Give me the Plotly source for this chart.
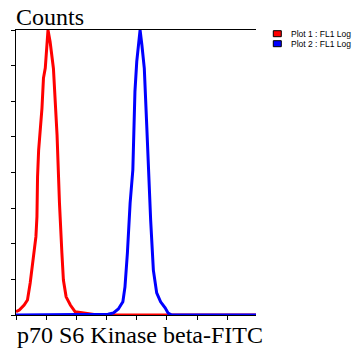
import plotly.graph_objects as go

# Data: fluorescence channel (log decades) vs counts
red_x = [0.0, 0.11, 0.27, 0.38, 0.47, 0.55, 0.605, 0.66, 0.694, 0.714, 0.75, 0.86, 0.91, 0.97, 1.06,
         1.13, 1.24, 1.36, 1.39, 1.44, 1.52, 1.57, 1.66, 1.80, 1.96, 2.23, 2.51, 2.7, 8.0]
red_y = [9, 14, 28, 42, 90, 136, 182, 220, 276, 388, 463, 580, 665, 693, 800,
         767, 692, 505, 407, 314, 174, 98, 51, 28, 9, 6, 3, 0, 0]

blue_x = [0.0, 3.05, 3.23, 3.39, 3.54, 3.61, 3.69, 3.78, 3.87, 3.94, 4.00, 4.11,
          4.17, 4.25, 4.33, 4.38, 4.46, 4.55, 4.66, 4.79, 4.94, 5.04, 5.16, 8.0]
blue_y = [0, 2, 6, 17, 37, 79, 174, 314, 407, 627, 711, 800,
          758, 692, 533, 407, 267, 126, 62, 37, 20, 5, 0, 0]

x_ticks = [0, 1, 2, 3, 4, 5, 6, 7]
y_ticks = [0, 100, 200, 300, 400, 500, 600, 700, 800]
legend_labels = ["Plot 1 : FL1 Log", "Plot 2 : FL1 Log"]
colors = ["#FF0000", "#0000FF"]

fig = go.Figure()
fig.add_trace(go.Scatter(x=red_x, y=red_y, mode="lines",
                         line=dict(color=colors[0], width=3), showlegend=False))
fig.add_trace(go.Scatter(x=blue_x, y=blue_y, mode="lines",
                         line=dict(color=colors[1], width=3), showlegend=False))

W, H = 354, 355
L, R, T, B = 16, 98, 30, 40
pw, ph = W - L - R, H - T - B

def px(xp):
    return (xp - L) / pw

def py(yp):
    return (H - B - yp) / ph

fig.update_layout(
    width=W, height=H,
    margin=dict(l=L, r=R, t=T, b=B),
    paper_bgcolor="white", plot_bgcolor="white",
    showlegend=False,
)
fig.update_xaxes(range=[0, 7.95], tickvals=x_ticks, showticklabels=False,
                 ticks="outside", ticklen=4, tickcolor="black", tickwidth=1,
                 showline=True, linecolor="black", linewidth=1, mirror=True,
                 showgrid=False, zeroline=False, layer="below traces")
fig.update_yaxes(range=[0, 800], tickvals=y_ticks, showticklabels=False,
                 ticks="outside", ticklen=4, tickcolor="black", tickwidth=1,
                 showline=True, linecolor="black", linewidth=1, mirror=False,
                 showgrid=False, zeroline=False, layer="below traces")

# Titles
fig.add_annotation(text="Counts", xref="paper", yref="paper", x=px(14), y=py(17),
                   xanchor="left", yanchor="middle", showarrow=False,
                   font=dict(family="Liberation Serif", size=24, color="black"))
fig.add_annotation(text="p70 S6 Kinase beta-FITC", xref="paper", yref="paper",
                   x=px(15), y=py(335), xanchor="left", yanchor="middle", showarrow=False,
                   font=dict(family="Liberation Serif", size=24, color="black"))

# Legend drawn manually
for i, (lab, col) in enumerate(zip(legend_labels, colors)):
    y0 = 30.7 + i * 10
    fig.add_shape(type="rect", xref="paper", yref="paper",
                  x0=px(273.3), x1=px(281.3), y0=py(y0 + 6), y1=py(y0),
                  fillcolor=col, line=dict(color="black", width=1))
    fig.add_annotation(text=lab, xref="paper", yref="paper", x=px(289), y=py(y0 + 3),
                       xanchor="left", yanchor="middle", showarrow=False,
                       font=dict(family="Liberation Sans", size=8.5, color="black"))

fig.write_html("out.html")
